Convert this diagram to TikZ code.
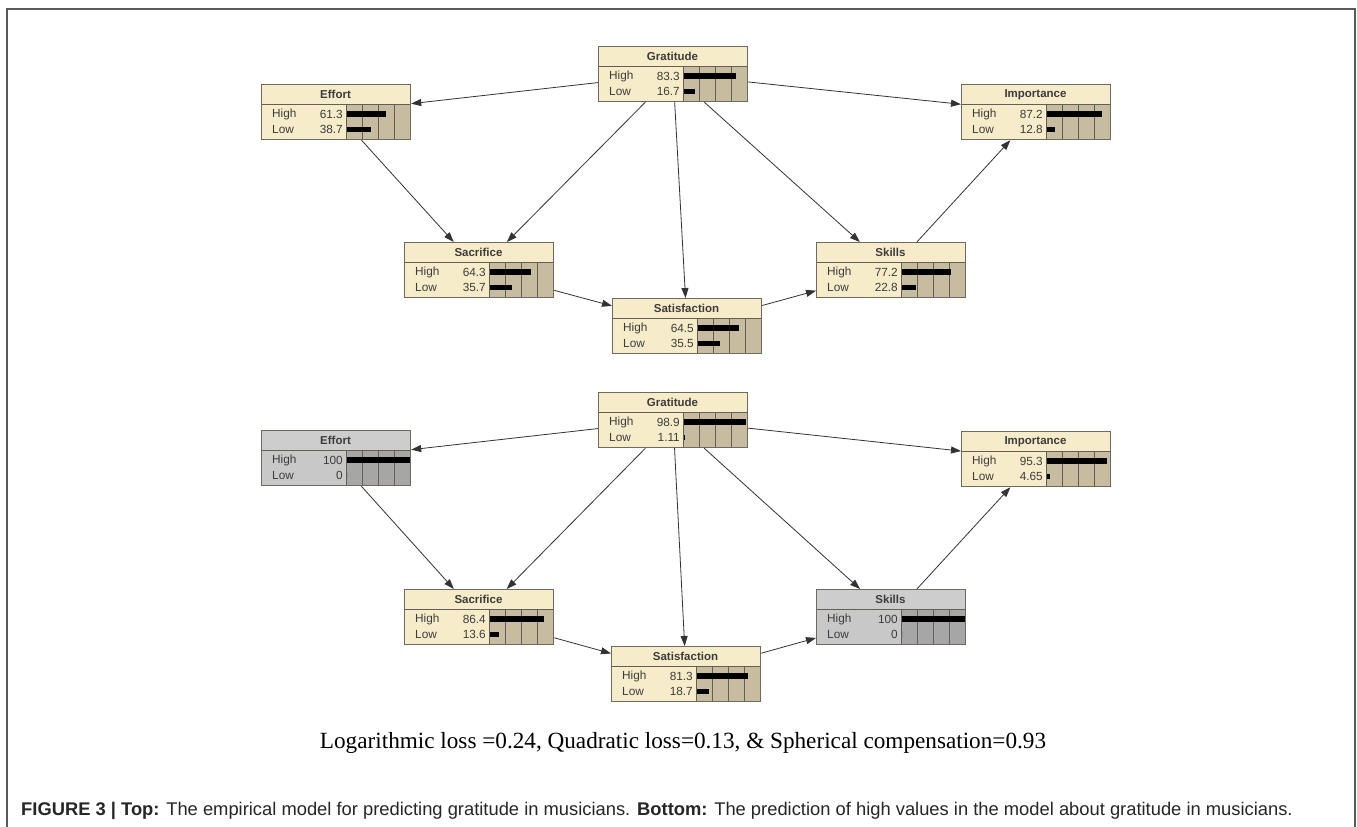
\documentclass[tikz,border=0pt]{standalone}
\usepackage{fontspec}
\setmainfont{Liberation Sans}
\newfontfamily\serifcap{Liberation Serif}
\usetikzlibrary{arrows.meta}
\definecolor{ct}{HTML}{F7ECC9}
\definecolor{cb}{HTML}{F7ECC9}
\definecolor{cr}{HTML}{C7BC9F}
\definecolor{gt}{HTML}{CDCDCD}
\definecolor{gb}{HTML}{C8C8C8}
\definecolor{gr}{HTML}{A6A6A6}
\definecolor{bdr}{HTML}{6F6A5E}
\definecolor{txt}{HTML}{3C3C3C}
\tikzset{
  bnbox/.style={draw=bdr, line width=1.2pt, rectangle, minimum width=149pt, minimum height=55pt, inner sep=0pt, anchor=north west},
  gridl/.style={draw=bdr!90!black, line width=0.9pt},
  ttl/.style={font=\fontsize{11.5}{12}\selectfont\bfseries, text=txt, inner sep=0pt},
  lbl/.style={font=\fontsize{11.8}{12}\selectfont, text=txt, inner sep=0pt},
  arr/.style={draw=black!80, line width=0.8pt, -{Triangle[length=10pt,width=7pt]}},
}
\newcommand\bnet[9]{%
  \fill[#9t] (#2,#3) rectangle ++(149,20);
  \fill[#9b] (#2,#3+20) rectangle ++(85,35);
  \fill[#9r] (#2+85,#3+20) rectangle ++(64,35);
  \foreach \k in {0,1,2,3} {\draw[gridl] (#2+85+16*\k,#3+20) -- ++(0,35);}
  \draw[gridl] (#2,#3+20) -- ++(149,0);
  \fill[black] (#2+86,#3+26.5) rectangle ++({63*#7},6);
  \fill[black] (#2+86,#3+42.5) rectangle ++({63*#8},5.5);
  \node[bnbox] (#1) at (#2,#3) {};
  \node[ttl] (#1t) at (#2+74.5,#3+10.5) {#4};
  \node[lbl,anchor=west] (#1hl) at (#2+11,#3+30) {High};
  \node[lbl,anchor=east] (#1hv) at (#2+82,#3+30) {#5};
  \node[lbl,anchor=west] (#1ll) at (#2+11,#3+45.5) {Low};
  \node[lbl,anchor=east] (#1lv) at (#2+82,#3+45.5) {#6};
}
\begin{document}
\begin{tikzpicture}[x=1pt,y=-1pt]
\useasboundingbox (0,0) rectangle (1357,827);
\fill[white] (0,0) rectangle (1357,827);
\draw[draw=black!65, line width=1.5pt] (7,827) coordinate (fa) -- (7,9) -- (1355,9) -- (1355,827) coordinate (fb);
% top network
\bnet{g1}{598}{46}{Gratitude}{83.3}{16.7}{0.833}{0.167}{c}
\bnet{e1}{261}{84}{Effort}{61.3}{38.7}{0.613}{0.387}{c}
\bnet{i1}{961}{84}{Importance}{87.2}{12.8}{0.872}{0.128}{c}
\bnet{sa1}{404}{242}{Sacrifice}{64.3}{35.7}{0.643}{0.357}{c}
\bnet{sk1}{816}{242}{Skills}{77.2}{22.8}{0.772}{0.228}{c}
\bnet{st1}{612}{298}{Satisfaction}{64.5}{35.5}{0.645}{0.355}{c}
\draw[arr] (g1) -- (e1);
\draw[arr] (g1) -- (i1);
\draw[arr] (g1) -- (sa1);
\draw[arr] (g1) -- (st1);
\draw[arr] (g1) -- (sk1);
\draw[arr] (e1) -- (sa1);
\draw[arr] (sa1) -- (st1);
\draw[arr] (st1) -- (sk1);
\draw[arr] (sk1) -- (i1);
% bottom network
\bnet{g2}{598}{392}{Gratitude}{98.9}{1.11}{0.989}{0.0111}{c}
\bnet{e2}{261}{430}{Effort}{100}{0}{1}{0}{g}
\bnet{i2}{961}{431}{Importance}{95.3}{4.65}{0.953}{0.0465}{c}
\bnet{sa2}{404}{589}{Sacrifice}{86.4}{13.6}{0.864}{0.136}{c}
\bnet{sk2}{816}{589}{Skills}{100}{0}{1}{0}{g}
\bnet{st2}{611}{646}{Satisfaction}{81.3}{18.7}{0.813}{0.187}{c}
\draw[arr] (g2) -- (e2);
\draw[arr] (g2) -- (i2);
\draw[arr] (g2) -- (sa2);
\draw[arr] (g2) -- (st2);
\draw[arr] (g2) -- (sk2);
\draw[arr] (e2) -- (sa2);
\draw[arr] (sa2) -- (st2);
\draw[arr] (st2) -- (sk2);
\draw[arr] (sk2) -- (i2);
\node[font=\serifcap\fontsize{23.2}{26}\selectfont, inner sep=0pt, anchor=base] (metrics) at (683,748) {Logarithmic loss =0.24, Quadratic loss=0.13, \& Spherical compensation=0.93};
\node[font=\fontsize{18.35}{20}\selectfont, text=black!85, anchor=base west, inner sep=0pt] (cap) at (21,815) {\textbf{FIGURE 3 | Top:} The empirical model for predicting gratitude in musicians. \textbf{Bottom:} The prediction of high values in the model about gratitude in musicians.};
\end{tikzpicture}
\end{document}
